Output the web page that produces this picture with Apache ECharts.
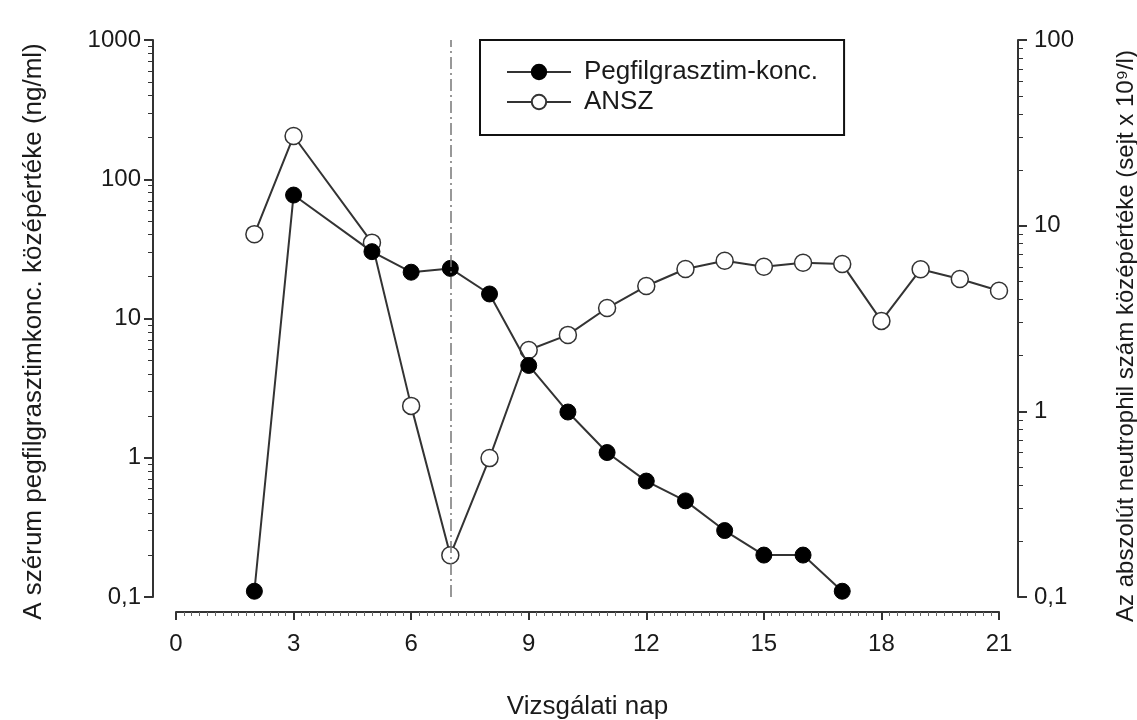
<!DOCTYPE html>
<html>
<head>
<meta charset="utf-8">
<script src="https://cdn.jsdelivr.net/npm/echarts@6/dist/echarts.min.js"></script>
<style>
  html, body { margin: 0; padding: 0; background: #fff; }
  #chart { width: 1137px; height: 720px; }
</style>
</head>
<body>
<div id="chart"></div>
<script>
// vizsgálati napok és középértékek
const pegDays = [2, 3, 5, 6, 7, 8, 9, 10, 11, 12, 13, 14, 15, 16, 17]
const pegValues = [0.11, 77, 30.2, 21.5, 22.9, 15, 4.6, 2.13, 1.09, 0.68, 0.49, 0.3, 0.2, 0.2, 0.11]

const ansDays = [2, 3, 5, 6, 7, 8, 9, 10, 11, 12, 13, 14, 15, 16, 17, 18, 19, 20, 21]
const ansValues = [9.0, 30.4, 8.1, 1.07, 0.168, 0.56, 2.14, 2.58, 3.6, 4.73, 5.84, 6.47, 6.01, 6.32, 6.21, 3.07, 5.82, 5.16, 4.46]

const xTicks = [0, 3, 6, 9, 12, 15, 18, 21]
const leftTickLabels = [0.1, 1, 10, 100, 1000]
const rightTickLabels = [0.1, 1, 10, 100]
const markerDay = 7

const FONT = '"Liberation Sans", Arial, sans-serif'
const INK = '#1a1a1a'

// log-osztású kis beosztások (2..9 minden dekádban), log10 térben
function minorTicks(decades) {
  const out = []
  for (let i = 0; i < decades.length - 1; i++) {
    for (let k = 2; k <= 9; k++) out.push(Math.log10(decades[i] * k))
  }
  return out
}

const fmt = v => String(v).replace('.', ',')

// csak beosztásjeleket rajzoló segédtengely (log10 térben)
function tickAxis(decades, pos, offset, len, width, values) {
  return {
    type: 'value',
    position: pos,
    offset: offset,
    min: Math.log10(decades[0]),
    max: Math.log10(decades[decades.length - 1]),
    axisLine: { show: false, onZero: false },
    axisLabel: { show: false },
    splitLine: { show: false },
    axisTick: { show: true, length: len, lineStyle: { color: '#333', width: width }, customValues: values }
  }
}

const chart = echarts.init(document.getElementById('chart'), null, { renderer: 'canvas' })

const option = {
  backgroundColor: '#fff',
  animation: false,
  grid: { left: 176, right: 138, top: 40, bottom: 123, outerBoundsMode: 'none', containLabel: false },
  legend: {
    left: 480,
    top: 40,
    orient: 'vertical',
    borderColor: '#111',
    borderWidth: 2,
    padding: [17, 26, 18, 26],
    itemWidth: 64,
    itemHeight: 18,
    itemGap: 0,
    textStyle: { fontFamily: FONT, fontSize: 26, color: INK, lineHeight: 30, padding: [0, 0, 0, 8] },
    data: ['Pegfilgrasztim-konc.', 'ANSZ']
  },
  xAxis: {
    type: 'value',
    min: 0,
    max: 21,
    interval: 3,
    offset: 15,
    name: 'Vizsgálati nap',
    nameLocation: 'middle',
    nameGap: 82,
    nameTextStyle: { fontFamily: FONT, fontSize: 26, color: INK },
    axisLine: { show: true, onZero: false, lineStyle: { color: '#333', width: 2 } },
    axisTick: { show: true, length: 8, lineStyle: { color: '#333', width: 2 }, customValues: xTicks },
    minorTick: { show: true, splitNumber: 15, length: 4, lineStyle: { color: '#666' } },
    axisLabel: { customValues: xTicks, margin: 20, fontFamily: FONT, fontSize: 24, color: INK },
    splitLine: { show: false }
  },
  yAxis: [
    {
      type: 'log', logBase: 10, min: 0.1, max: 1000, position: 'left', offset: 23,
      name: 'A szérum pegfilgrasztimkonc. középértéke (ng/ml)',
      nameLocation: 'middle', nameRotate: 90, nameGap: 106,
      nameTextStyle: { fontFamily: FONT, fontSize: 26, color: INK, padding: [0, 26, 0, 0] },
      axisLine: { show: true, onZero: false, lineStyle: { color: '#333', width: 2 } },
      axisTick: { show: false },
      splitLine: { show: false },
      axisLabel: { customValues: leftTickLabels, margin: 12, formatter: fmt, fontFamily: FONT, fontSize: 24, color: INK }
    },
    {
      type: 'log', logBase: 10, min: 0.1, max: 100, position: 'right', offset: 19,
      name: 'Az abszolút neutrophil szám középértéke (sejt x 10⁹/l)',
      nameLocation: 'middle', nameRotate: 90, nameGap: 96,
      nameTextStyle: { fontFamily: FONT, fontSize: 24, color: INK, padding: [0, 35, 0, 0] },
      axisLine: { show: true, onZero: false, lineStyle: { color: '#333', width: 2 } },
      axisTick: { show: false },
      splitLine: { show: false },
      axisLabel: { customValues: rightTickLabels, margin: 16, formatter: fmt, fontFamily: FONT, fontSize: 24, color: INK }
    },
    tickAxis(leftTickLabels, 'left', 23, 9, 2, leftTickLabels.map(Math.log10)),
    tickAxis(leftTickLabels, 'left', 23, 5, 1, minorTicks(leftTickLabels)),
    tickAxis(rightTickLabels, 'right', 19, 9, 2, rightTickLabels.map(Math.log10)),
    tickAxis(rightTickLabels, 'right', 19, 5, 1, minorTicks(rightTickLabels))
  ],
  series: [
    {
      name: 'Pegfilgrasztim-konc.',
      type: 'line',
      yAxisIndex: 0,
      data: pegDays.map((d, i) => [d, pegValues[i]]),
      symbol: 'circle',
      symbolSize: 16,
      itemStyle: { color: '#000', borderColor: '#000', borderWidth: 1 },
      lineStyle: { color: '#333', width: 2 },
      z: 3,
      markLine: {
        silent: true,
        symbol: 'none',
        label: { show: false },
        lineStyle: { color: '#777', width: 1.5, type: [12, 4, 2, 4] },
        data: [{ xAxis: markerDay }]
      }
    },
    {
      name: 'ANSZ',
      type: 'line',
      yAxisIndex: 1,
      data: ansDays.map((d, i) => [d, ansValues[i]]),
      symbol: 'circle',
      symbolSize: 17,
      itemStyle: { color: '#fff', borderColor: '#333', borderWidth: 1.5 },
      lineStyle: { color: '#333', width: 2 },
      z: 2
    }
  ]
}

chart.setOption(option)
</script>
</body>
</html>
